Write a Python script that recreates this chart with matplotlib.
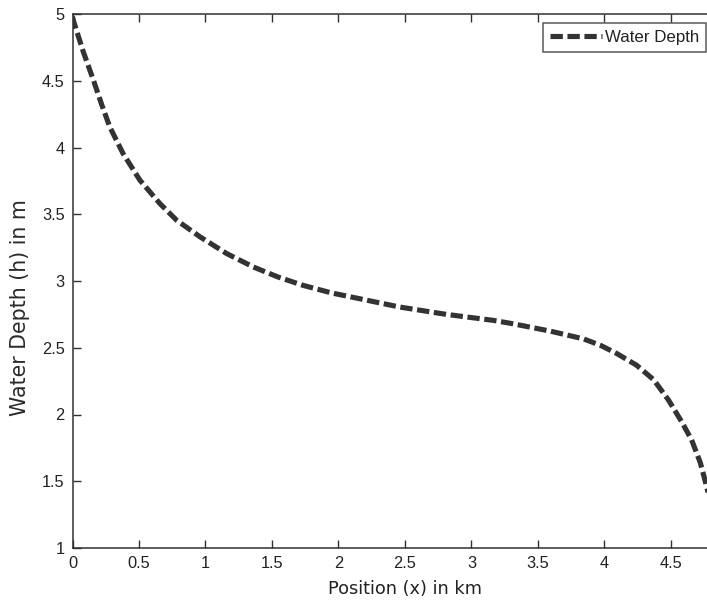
import matplotlib
matplotlib.use("Agg")
import matplotlib.pyplot as plt

# Data
position_km = [0.0, 0.01, 0.08, 0.157, 0.22, 0.28, 0.38, 0.507, 0.657, 0.783, 0.96,
               1.16, 1.36, 1.545, 1.735, 1.95, 2.16, 2.46, 2.81, 3.165, 3.31,
               3.59, 3.84, 3.966, 4.09, 4.24, 4.37, 4.48, 4.58, 4.655, 4.72,
               4.755, 4.80]
water_depth_m = [4.98, 4.94, 4.72, 4.505, 4.32, 4.155, 3.955, 3.755, 3.58, 3.455, 3.33,
                 3.205, 3.105, 3.03, 2.967, 2.91, 2.867, 2.805, 2.75, 2.705, 2.68,
                 2.625, 2.567, 2.52, 2.458, 2.37, 2.26, 2.11, 1.946, 1.81, 1.64,
                 1.51, 1.33]
x_ticks = [0, 0.5, 1, 1.5, 2, 2.5, 3, 3.5, 4, 4.5]
y_ticks = [1, 1.5, 2, 2.5, 3, 3.5, 4, 4.5, 5]

plt.rcParams['font.family'] = ['Liberation Sans', 'DejaVu Sans']

W, H = 707, 603
fig = plt.figure(figsize=(W / 100, H / 100), dpi=100)
left_px, right_px, top_px, bottom_px = 72.5, 737.5, 14, 548
ax = fig.add_axes([left_px / W, 1 - bottom_px / H,
                   (right_px - left_px) / W, (bottom_px - top_px) / H])

ax.plot(position_km, water_depth_m, color='#333333', lw=3.7,
        linestyle=(0, (2.4, 0.9)), label='Water Depth',
        dash_capstyle='butt', dash_joinstyle='round')

ax.set_xlim(0, 5)
ax.set_ylim(1, 5)
ax.set_xticks(x_ticks)
ax.set_yticks(y_ticks)
ax.set_xticklabels([f"{t:g}" for t in x_ticks])
ax.set_yticklabels([f"{t:g}" for t in y_ticks])
ax.tick_params(direction='in', length=6, width=1, top=True, right=True,
               labelsize=11.8, pad=5.5, color='#303030', labelcolor='#222222')
for s in ax.spines.values():
    s.set_color('#303030')
    s.set_linewidth(1.1)

ax.set_xlabel('Position (x) in km', fontsize=12.8, color='#222222',
              family='DejaVu Sans', labelpad=6.5)
ax.set_ylabel('Water Depth (h) in m', fontsize=14.8, color='#2a2a2a',
              family='DejaVu Sans')
ax.yaxis.set_label_coords(-0.064, 0.450)

leg = ax.legend(loc='upper right', bbox_to_anchor=(706 / W, 1 - 23 / H),
                bbox_transform=fig.transFigure, borderaxespad=0,
                fontsize=12.2, frameon=True, fancybox=False,
                handlelength=3.1, handletextpad=0.15, borderpad=0.4)
leg.get_frame().set_edgecolor('#303030')
leg.get_frame().set_linewidth(1.1)
for t in leg.get_texts():
    t.set_color('#222222')

fig.savefig('out.png', dpi=100)
